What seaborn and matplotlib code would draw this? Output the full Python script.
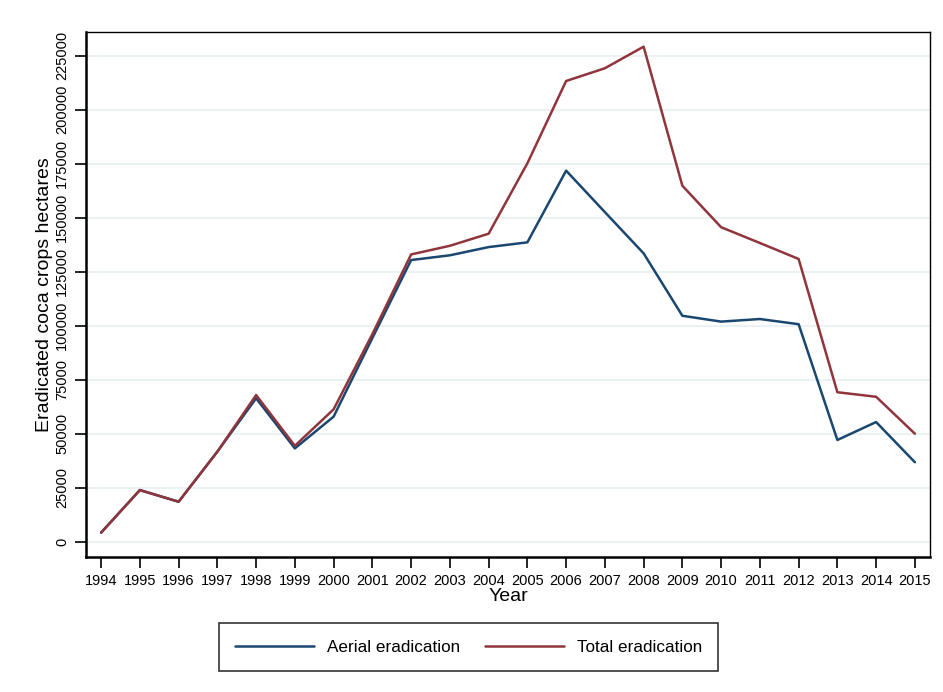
import seaborn as sns
import numpy as np
import pandas as pd
import matplotlib.pyplot as plt

years = list(range(1994, 2016))
aerial = [4200, 23900, 18500, 41700, 66400, 43200, 57900, 94300, 130400, 132600, 136400,
          138600, 171800, 152600, 133500, 104600, 101900, 103100, 100700, 47100, 55400, 36800]
total = [4200, 23900, 18500, 41700, 67900, 44400, 61300, 96100, 133000, 137000, 142600,
         175200, 213300, 219200, 229200, 164800, 145600, 138300, 130900, 69200, 67100, 50000]
series = ['Aerial eradication', 'Total eradication']
yticks = list(range(0, 225001, 25000))

df = pd.DataFrame({'Year': years * 2,
                   'value': aerial + total,
                   'series': [series[0]] * len(years) + [series[1]] * len(years)})

sns.set_style('white')
plt.rcParams['font.family'] = ['Liberation Sans', 'DejaVu Sans']
plt.rcParams['text.color'] = 'black'
plt.rcParams['axes.labelcolor'] = 'black'
plt.rcParams['xtick.color'] = 'black'
plt.rcParams['ytick.color'] = 'black'

fig = plt.figure(figsize=(9.43, 6.92), dpi=100)
ax = fig.add_axes([0.0912, 0.1951, 0.8950, 0.7587])

sns.lineplot(data=df, x='Year', y='value', hue='series',
             palette=['#1a476f', '#90353b'], linewidth=1.8, ax=ax, legend=False)

ax.set_xlim(1993.61, 2015.39)
ax.set_ylim(-7080, 236000)
ax.set_xticks(years)
ax.set_xticklabels([str(y) for y in years], fontsize=10.5)
ax.set_yticks(yticks)
ax.set_yticklabels([str(v) for v in yticks], fontsize=10.5, rotation=90, va='center')
ax.grid(axis='y', color='#eaf2f3', linewidth=1.5)
ax.set_axisbelow(True)
ax.tick_params(axis='both', which='both', direction='out', length=8, width=1.2,
               color='black', left=True, bottom=True, pad=4)
for side in ['left', 'bottom']:
    ax.spines[side].set_linewidth(1.8)
for side in ['top', 'right']:
    ax.spines[side].set_linewidth(1.0)
for s in ax.spines.values():
    s.set_color('black')

ax.set_xlabel('Year', fontsize=14, labelpad=0)
ax.set_ylabel('Eradicated coca crops hectares', fontsize=14, labelpad=2)

handles = [plt.Line2D([], [], color='#1a476f', linewidth=1.8),
           plt.Line2D([], [], color='#90353b', linewidth=1.8)]
leg = fig.legend(handles, series, loc='center', bbox_to_anchor=(0.497, 0.065),
                 ncol=2, fontsize=12.3, frameon=True, fancybox=False,
                 edgecolor='black', handlelength=4.6, columnspacing=1.5,
                 borderpad=0.95, handletextpad=0.76, borderaxespad=0)
leg.get_frame().set_linewidth(1.2)

fig.savefig('out.png', dpi=100)
